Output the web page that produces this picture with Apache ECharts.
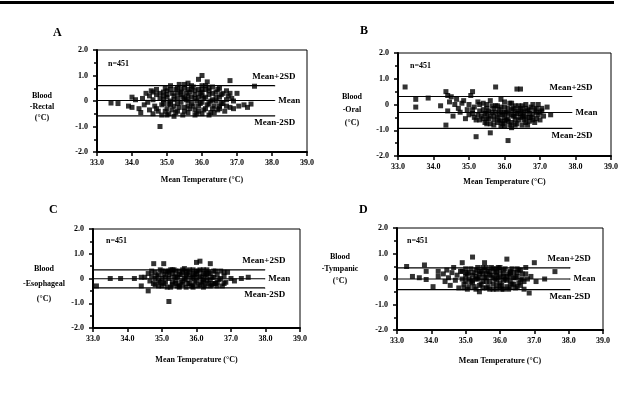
<!DOCTYPE html>
<html>
<head>
<meta charset="utf-8">
<script src="https://cdn.jsdelivr.net/npm/echarts@6/dist/echarts.min.js"></script>
<style>
  html, body { margin: 0; padding: 0; background: #fff; }
  #chart { width: 621px; height: 408px; }
</style>
</head>
<body>
<div id="chart"></div>
<script>
// tick labels
const xTicks = [33.0, 34.0, 35.0, 36.0, 37.0, 38.0, 39.0];
const yTicks = [-2.0, -1.0, 0, 1.0, 2.0];
const panelLetters = ['A', 'B', 'C', 'D'];
const yNames = ['Blood\n-Rectal\n(°C)', 'Blood\n-Oral\n(°C)', 'Blood\n-Esophageal\n(°C)', 'Blood\n-Tympanic\n(°C)'];
const xName = 'Mean Temperature (°C)';
const nLabel = 'n=451';

// mean +/- 2SD lines  [mean+2SD, mean, mean-2SD]
const limitsA = [0.6, 0.02, -0.58];
const limitsB = [0.31, -0.31, -0.93];
const limitsC = [0.35, -0.01, -0.38];
const limitsD = [0.44, 0.0, -0.42];
const lineStart = 33.0;
const lineEnds = [38.08, 37.9, 37.98, 38.04];
const lineNames = ['Mean+2SD', 'Mean', 'Mean-2SD'];

// [mean temperature, difference]
const ptsA = [
  [33.4,-0.08],[33.6,-0.1],[33.9,-0.2],[34.0,0.15],[34.0,-0.25],[34.1,0.05],[34.2,-0.3],[34.25,-0.45],[34.3,0.1],[34.35,-0.15],
  [34.4,0.3],[34.45,-0.05],[34.5,0.2],[34.5,-0.35],[34.55,0.4],[34.6,0.05],[34.6,-0.5],[34.65,-0.2],[34.7,0.25],[34.7,0.45],
  [34.75,-0.4],[34.8,0.1],[34.8,-1.0],[34.85,-0.55],[34.9,0.35],[34.9,-0.1],[34.95,0.5],[35.0,0.15],[35.0,-0.3],[35.05,-0.5],
  [35.1,0.6],[35.1,0.0],[35.15,0.3],[35.2,-0.2],[35.2,-0.6],[35.25,0.45],[35.3,0.1],[35.3,-0.4],[35.35,0.65],[35.4,-0.05],
  [35.4,0.25],[35.45,-0.55],[35.5,0.5],[35.5,-0.25],[35.55,0.05],[35.6,0.7],[35.6,-0.45],[35.65,0.35],[35.7,-0.1],[35.7,0.15],
  [35.75,0.55],[35.8,-0.35],[35.8,0.4],[35.85,0.0],[35.9,0.85],[35.9,-0.2],[35.95,0.3],[36.0,1.0],[36.0,-0.5],[36.0,0.6],
  [36.05,0.1],[36.1,-0.3],[36.1,0.45],[36.15,0.75],[36.2,-0.1],[36.2,0.25],[36.25,-0.45],[36.3,0.55],[36.3,0.05],[36.35,-0.2],
  [36.4,0.35],[36.45,-0.35],[36.5,0.15],[36.5,0.5],[36.55,-0.1],[36.6,0.3],[36.65,-0.4],[36.7,0.05],[36.75,0.2],[36.8,0.8],
  [36.8,-0.25],[36.85,0.1],[36.9,-0.3],[37.0,0.3],[37.05,-0.2],[37.2,-0.15],[37.3,-0.25],[37.4,-0.12],[37.5,0.58],
  [34.9,0.2],[35.0,0.4],[35.1,-0.15],[35.2,0.2],[35.3,-0.1],[35.4,0.45],[35.5,0.1],[35.6,0.2],[35.6,-0.2],[35.7,0.45],
  [35.8,0.1],[35.9,-0.4],[35.9,0.15],[36.0,0.35],[36.0,-0.05],[36.1,0.15],[36.2,0.4],[36.3,-0.3],[36.4,0.0],[36.5,-0.2],
  [34.6,0.35],[34.7,-0.3],[34.8,0.3],[34.85,-0.15],[34.9,0.05],[34.95,-0.4],[35.0,0.25],[35.05,-0.1],[35.1,0.45],[35.15,-0.35],
  [35.2,0.05],[35.25,-0.45],[35.3,0.5],[35.35,-0.25],[35.4,0.35],[35.45,0.15],[35.5,-0.4],[35.55,0.3],[35.6,0.0],[35.65,-0.3],
  [35.7,0.6],[35.75,-0.2],[35.8,0.25],[35.85,-0.5],[35.9,0.45],[35.95,-0.1],[36.0,0.2],[36.05,-0.35],[36.1,0.6],[36.15,-0.15],
  [36.2,0.5],[36.25,0.0],[36.3,0.3],[36.35,-0.45],[36.4,0.15],[36.45,0.45],[36.5,-0.3],[36.55,0.25],[36.6,-0.1],[36.7,0.4],
  [36.7,-0.2],[36.8,0.3],[36.9,0.0],[35.0,-0.55],[35.5,0.65],[35.8,-0.55],[36.2,-0.55],[35.3,0.3],[35.6,0.45],[36.0,0.45]
];
const ptsB = [
  [33.2,0.68],[33.5,0.2],[33.5,-0.1],[33.85,0.25],[34.2,-0.05],[34.35,0.5],[34.4,0.35],[34.45,0.1],[34.4,-0.25],[34.35,-0.8],
  [34.5,0.3],[34.55,-0.45],[34.6,0.0],[34.65,0.2],[34.7,-0.15],[34.75,-0.3],[34.8,0.05],[34.85,0.15],[34.9,-0.55],[34.95,-0.2],
  [35.0,0.0],[35.05,0.35],[35.1,0.5],[35.1,-0.35],[35.15,-0.1],[35.2,-1.25],[35.2,-0.6],[35.25,0.1],[35.3,-0.25],[35.35,-0.45],
  [35.4,0.05],[35.45,-0.7],[35.5,-0.15],[35.5,-0.35],[35.55,-0.55],[35.6,-1.1],[35.6,0.15],[35.65,-0.3],[35.7,-0.8],[35.75,0.68],
  [35.75,-0.05],[35.8,-0.5],[35.85,-0.2],[35.9,-0.65],[35.9,0.2],[35.95,-0.4],[36.0,-0.1],[36.0,-0.85],[36.05,-0.3],[36.1,-1.4],
  [36.1,-0.55],[36.15,0.05],[36.2,-0.2],[36.2,-0.7],[36.25,-0.45],[36.3,-0.05],[36.35,0.6],[36.45,0.6],[36.35,-0.35],[36.4,-0.6],
  [36.45,-0.15],[36.5,-0.8],[36.55,-0.3],[36.6,0.0],[36.6,-0.5],[36.65,-0.25],[36.7,-0.65],[36.75,-0.1],[36.8,-0.4],[36.85,-0.2],
  [36.9,-0.55],[36.95,0.0],[37.0,-0.3],[37.05,-0.15],[37.1,-0.45],[37.2,-0.1],[37.3,-0.4],
  [35.3,-0.6],[35.4,-0.2],[35.6,-0.45],[35.7,-0.15],[35.8,-0.7],[35.9,-0.3],[36.0,-0.5],[36.1,-0.15],[36.2,-0.4],[36.3,-0.6],
  [36.4,-0.25],[36.5,-0.45],[36.6,-0.7],[36.7,-0.35],[36.8,-0.6],[36.9,-0.3],[35.5,-0.55],[36.0,-0.65],[36.3,-0.25],[36.5,-0.05],
  [35.0,-0.4],[35.1,-0.2],[35.15,-0.5],[35.25,-0.4],[35.3,0.0],[35.4,-0.55],[35.45,-0.35],[35.5,0.0],[35.55,-0.25],[35.6,-0.75],
  [35.65,-0.05],[35.7,-0.45],[35.75,-0.3],[35.8,-0.05],[35.85,-0.6],[35.9,-0.1],[35.95,-0.75],[36.0,-0.3],[36.05,-0.6],[36.1,-0.35],
  [36.15,-0.8],[36.2,0.05],[36.25,-0.15],[36.3,-0.45],[36.35,-0.75],[36.4,-0.05],[36.45,-0.5],[36.5,-0.25],[36.55,-0.6],[36.6,-0.15],
  [36.65,-0.8],[36.7,-0.2],[36.75,-0.5],[36.8,0.0],[36.85,-0.7],[36.9,-0.15],[36.95,-0.4],[37.0,-0.6],[37.05,-0.25],[35.9,-0.85],
  [36.2,-0.9],[35.7,-0.6],[36.45,-0.35],[36.0,0.1],[35.5,-0.75],[36.7,-0.5],[36.3,-0.8],[35.85,-0.4],[36.55,-0.45],[36.1,-0.65]
];
const ptsC = [
  [33.1,-0.3],[33.5,0.0],[33.8,0.0],[34.2,0.0],[34.4,0.05],[34.4,-0.3],[34.5,0.05],[34.6,-0.5],[34.6,0.2],[34.65,-0.1],
  [34.7,0.3],[34.76,0.6],[34.8,-0.25],[34.85,0.1],[34.9,-0.1],[34.95,0.35],[35.0,-0.3],[35.05,0.6],[35.05,0.15],[35.1,-0.15],
  [35.15,0.25],[35.2,-0.93],[35.2,0.0],[35.25,-0.35],[35.3,0.2],[35.35,0.35],[35.4,-0.2],[35.45,0.05],[35.5,0.3],[35.5,-0.3],
  [35.55,0.15],[35.6,-0.1],[35.65,0.4],[35.7,-0.35],[35.7,0.1],[35.75,0.25],[35.8,-0.2],[35.85,0.0],[35.9,0.35],[35.9,-0.3],
  [35.95,0.15],[36.0,0.65],[36.0,-0.1],[36.05,0.3],[36.1,0.7],[36.1,-0.25],[36.15,0.05],[36.2,0.35],[36.2,-0.35],[36.25,0.15],
  [36.3,-0.1],[36.35,0.25],[36.4,0.6],[36.4,-0.3],[36.45,0.05],[36.5,0.3],[36.55,-0.2],[36.6,0.15],[36.65,-0.05],[36.7,0.3],
  [36.75,-0.3],[36.8,0.1],[36.85,-0.15],[36.9,0.25],[37.0,0.0],[37.1,-0.1],[37.3,0.0],[37.5,0.05],
  [35.0,0.0],[35.1,0.3],[35.3,-0.15],[35.4,0.1],[35.6,0.25],[35.6,-0.25],[35.8,0.15],[35.9,0.05],[36.0,0.2],[36.1,0.1],
  [36.3,0.2],[36.4,-0.05],[36.5,-0.2],[36.6,-0.3],[35.2,0.3],[35.7,-0.05],[36.2,-0.15],[34.9,-0.3],
  [34.7,0.1],[34.75,-0.2],[34.8,0.25],[34.9,0.15],[34.95,-0.15],[35.0,0.3],[35.05,-0.2],[35.1,0.05],[35.15,-0.35],[35.2,0.15],
  [35.25,0.35],[35.3,-0.25],[35.35,0.05],[35.4,0.3],[35.45,-0.3],[35.5,0.15],[35.55,-0.15],[35.6,0.35],[35.65,0.0],[35.7,0.3],
  [35.75,-0.2],[35.8,0.35],[35.85,-0.3],[35.9,0.2],[35.95,-0.15],[36.0,0.05],[36.05,-0.3],[36.1,0.35],[36.15,-0.15],[36.2,0.2],
  [36.25,-0.3],[36.3,0.35],[36.35,-0.2],[36.4,0.2],[36.45,-0.25],[36.5,0.05],[36.55,0.3],[36.6,-0.15],[36.7,0.0],[36.8,-0.2],
  [35.3,0.35],[35.5,-0.35],[35.9,-0.35],[36.3,0.05],[35.7,0.15],[36.0,0.3],[35.4,-0.1],[36.2,-0.05],[34.8,0.0],[36.8,0.25]
];
const ptsD = [
  [33.28,0.49],[33.45,0.1],[33.65,0.05],[33.8,0.55],[33.85,0.3],[33.85,-0.02],[34.05,-0.3],[34.2,0.3],[34.2,0.1],[34.35,0.2],
  [34.4,-0.1],[34.45,0.35],[34.5,0.05],[34.55,-0.25],[34.6,0.25],[34.65,0.45],[34.7,-0.05],[34.75,0.15],[34.8,-0.35],[34.85,0.3],
  [34.9,0.64],[34.9,0.0],[34.95,-0.2],[35.0,0.4],[35.0,0.1],[35.05,-0.4],[35.1,0.25],[35.15,-0.1],[35.2,0.86],[35.2,0.15],
  [35.25,-0.3],[35.3,0.35],[35.35,0.0],[35.4,-0.5],[35.4,0.2],[35.45,-0.2],[35.5,0.45],[35.55,0.64],[35.55,0.05],[35.6,-0.35],
  [35.65,0.3],[35.7,-0.1],[35.75,0.15],[35.8,-0.4],[35.8,0.4],[35.85,0.0],[35.9,-0.25],[35.9,0.25],[35.95,0.45],[36.0,-0.15],
  [36.0,0.1],[36.05,-0.4],[36.1,0.35],[36.15,0.0],[36.2,0.78],[36.2,-0.3],[36.25,0.2],[36.3,-0.1],[36.35,0.4],[36.4,0.05],
  [36.45,-0.35],[36.5,0.25],[36.55,-0.15],[36.6,0.35],[36.65,0.0],[36.7,-0.4],[36.75,0.2],[36.85,-0.55],[36.9,0.1],[37.0,0.64],
  [37.05,-0.1],[37.3,0.0],[37.6,0.29],
  [35.1,0.0],[35.3,0.1],[35.5,-0.1],[35.6,0.2],[35.7,0.3],[35.8,0.05],[35.9,0.15],[36.0,0.3],[36.1,-0.05],[36.2,0.1],
  [36.3,0.25],[36.4,-0.2],[36.5,0.1],[36.6,-0.05],[35.4,0.3],[35.6,-0.1],[35.9,-0.05],[36.1,0.2],[36.3,-0.3],[35.2,-0.15],
  [34.9,0.3],[34.95,-0.35],[35.0,-0.1],[35.05,0.2],[35.1,-0.3],[35.15,0.4],[35.2,-0.05],[35.25,0.25],[35.3,-0.4],[35.35,0.45],
  [35.4,0.05],[35.45,0.3],[35.5,-0.35],[35.55,0.35],[35.6,0.05],[35.65,-0.3],[35.7,0.15],[35.75,0.45],[35.8,-0.2],[35.85,0.3],
  [35.9,-0.4],[35.95,0.05],[36.0,0.45],[36.05,-0.25],[36.1,0.1],[36.15,0.4],[36.2,-0.05],[36.25,-0.4],[36.3,0.3],[36.35,-0.2],
  [36.4,0.25],[36.45,0.05],[36.5,-0.3],[36.55,0.35],[36.6,-0.25],[36.65,0.2],[36.7,-0.1],[36.75,0.45],[36.8,0.0],[35.0,0.25],
  [35.3,0.0],[35.5,0.2],[35.7,-0.4],[35.9,0.4],[36.1,-0.4],[36.3,0.1],[36.5,0.4],[35.6,0.45],[36.0,-0.3],[35.4,-0.25]
];

const panels = [
  {pts: ptsA, lim: limitsA, grid: {left: 97, top: 50, width: 210, height: 102}, nameGap: 24,
   letter: [53, 27], n: [108, 60], yName: [42, 90, 11]},
  {pts: ptsB, lim: limitsB, grid: {left: 398, top: 53, width: 214, height: 103}, nameGap: 22,
   letter: [360, 25], n: [410, 62], yName: [352, 90, 13]},
  {pts: ptsC, lim: limitsC, grid: {left: 93, top: 229, width: 207, height: 99}, nameGap: 28,
   letter: [49, 204], n: [106, 237], yName: [44, 261, 15]},
  {pts: ptsD, lim: limitsD, grid: {left: 397, top: 228, width: 206, height: 102}, nameGap: 27,
   letter: [359, 204], n: [407, 237], yName: [340, 251, 12]}
];

const font = 'Liberation Serif';
const txt = {color: '#000', fontFamily: font, fontWeight: 'bold', fontSize: 8};
const lineTxt = {color: '#000', fontFamily: font, fontWeight: 'bold', fontSize: 9};

const grids = [], xAxes = [], yAxes = [], series = [], graphics = [];
graphics.push({type: 'line', shape: {x1: 0, y1: 2.5, x2: 614, y2: 2.5}, style: {stroke: '#000', lineWidth: 3}});

const labelPos = [[-22, -13], [4, -4], [-20, 3]];

panels.forEach((p, i) => {
  grids.push(Object.assign({show: true, borderColor: '#000', borderWidth: 1, backgroundColor: 'transparent'}, p.grid));
  xAxes.push({
    gridIndex: i, type: 'value', min: xTicks[0], max: xTicks[xTicks.length - 1], interval: 1,
    name: xName, nameLocation: 'middle', nameGap: p.nameGap, nameTextStyle: txt,
    axisLine: {onZero: false, lineStyle: {color: '#000', width: 2}},
    axisTick: {inside: false, length: 4, lineStyle: {color: '#000', width: 1.5}},
    axisLabel: Object.assign({margin: 7, formatter: v => v.toFixed(1), showMinLabel: true, showMaxLabel: true}, txt),
    splitLine: {show: false}
  });
  yAxes.push({
    gridIndex: i, type: 'value', min: yTicks[0], max: yTicks[yTicks.length - 1], interval: 1,
    axisLine: {onZero: false, lineStyle: {color: '#000', width: 2}},
    axisTick: {inside: false, length: 4, lineStyle: {color: '#000', width: 1.5}},
    minorTick: {show: true, splitNumber: 2, length: 3, lineStyle: {color: '#000', width: 1.5}},
    axisLabel: Object.assign({margin: 9, formatter: v => v === 0 ? '0' : v.toFixed(1)}, txt),
    splitLine: {show: false}
  });
  series.push({
    type: 'scatter', xAxisIndex: i, yAxisIndex: i, data: p.pts,
    symbol: 'rect', symbolSize: 5, itemStyle: {color: '#000'}, silent: true, z: 3
  });
  p.lim.forEach((v, k) => {
    series.push({
      type: 'line', xAxisIndex: i, yAxisIndex: i,
      data: [[lineStart, v], {
        value: [lineEnds[i], v],
        label: Object.assign({show: true, formatter: lineNames[k], position: labelPos[k]}, lineTxt)
      }],
      symbol: 'circle', symbolSize: 1, showSymbol: true,
      itemStyle: {color: '#000'},
      lineStyle: {color: '#000', width: 1.2}, silent: true, z: 4
    });
  });
  graphics.push({type: 'text', left: p.letter[0], top: p.letter[1],
    style: {text: panelLetters[i], fill: '#000', font: 'bold 12px "' + font + '"'}});
  graphics.push({type: 'text', left: p.n[0], top: p.n[1],
    style: {text: nLabel, fill: '#000', font: 'bold 8px "' + font + '"'}});
  graphics.push({type: 'text', x: p.yName[0], y: p.yName[1],
    style: {text: yNames[i], fill: '#000', font: 'bold 8px "' + font + '"',
      align: 'center', verticalAlign: 'top', lineHeight: p.yName[2]}});
});

const chart = echarts.init(document.getElementById('chart'));
chart.setOption({
  backgroundColor: '#fff',
  animation: false,
  grid: grids,
  xAxis: xAxes,
  yAxis: yAxes,
  series: series,
  graphic: graphics
});
</script>
</body>
</html>
